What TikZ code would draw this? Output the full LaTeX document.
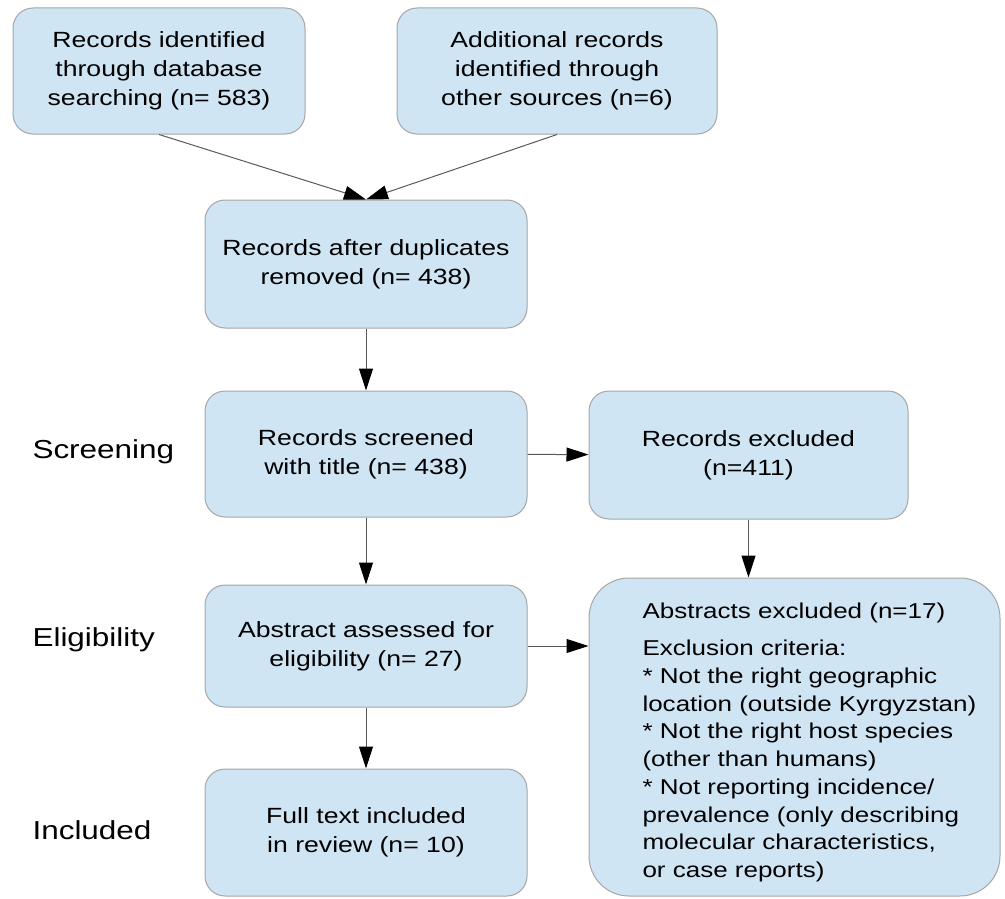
\documentclass[tikz,border=0pt]{standalone}
\usepackage{fontspec}
\setmainfont{Liberation Sans}[FakeStretch=1.21]
\usetikzlibrary{arrows.meta}
\definecolor{boxFill}{RGB}{207,229,243}
\colorlet{boxLine}{black!35}
\colorlet{penColor}{black!65}
\tikzset{
  box/.style={draw=boxLine, fill=boxFill, line width=1pt, rounded corners=20pt,
    align=center, inner sep=0pt, font=\fontsize{22}{29}\selectfont},
  bigbox/.style={box, rounded corners=40pt, align=left, text width=370pt,
    font=\fontsize{21.5}{27.7}\selectfont},
  flow/.style={penColor, line width=1pt, -{Triangle[length=22pt,width=14pt,color=black]}},
  stage/.style={anchor=west, font=\fontsize{26}{30}\selectfont}
}

\begin{document}
\begin{tikzpicture}[x=1pt,y=-1pt]
\useasboundingbox (0,0) rectangle (1005,899);
% identification
\node[box, minimum width=292pt, minimum height=126pt] (database) at (159,71)
  {Records identified\\through database\\searching (n= 583)};
\node[box, minimum width=320pt, minimum height=126pt] (other) at (557,71)
  {Additional records\\identified through\\other sources (n=6)};
\node[box, minimum width=322pt, minimum height=128pt] (dedup) at (366,264)
  {Records after duplicates\\removed (n= 438)};
% screening
\node[box, minimum width=322pt, minimum height=126pt] (screened) at (366,454)
  {Records screened\\with title (n= 438)};
\node[box, minimum width=319pt, minimum height=128pt] (excluded) at (748.5,455)
  {Records excluded\\(n=411)};
% eligibility
\node[box, minimum width=322pt, minimum height=122pt] (abstract) at (366,646)
  {Abstract assessed for\\eligibility (n= 27)};
\node[bigbox, minimum width=411pt, minimum height=318pt] (absexcl) at (794.5,737)
  {\leftskip=33pt\rule{0pt}{26pt}Abstracts excluded (n=17)\\[10pt]
   Exclusion criteria:\\
   {*} Not the right geographic\\
   location (outside Kyrgyzstan)\\
   {*} Not the right host species\\
   (other than humans)\\
   {*} Not reporting incidence/\\
   prevalence (only describing\\
   molecular characteristics,\\
   or case reports)\par};
% included
\node[box, minimum width=322pt, minimum height=127pt] (fulltext) at (366,832.5)
  {Full text included\\in review (n= 10)};

\node[stage] (lscreen) at (29,452) {Screening};
\node[stage] (lelig) at (29,640) {Eligibility};
\node[stage] (lincl) at (29,830) {Included};

\draw[flow] (database.south) -- (dedup.north);
\draw[flow] (other.south) -- (dedup.north);
\draw[flow] (dedup) -- (screened);
\draw[flow] (screened) -- (excluded);
\draw[flow] (screened) -- (abstract);
\draw[flow] (excluded.south) -- (excluded.south |- absexcl.north);
\draw[flow] (abstract.east) -- (abstract.east -| absexcl.west);
\draw[flow] (abstract) -- (fulltext);
\end{tikzpicture}
\end{document}
